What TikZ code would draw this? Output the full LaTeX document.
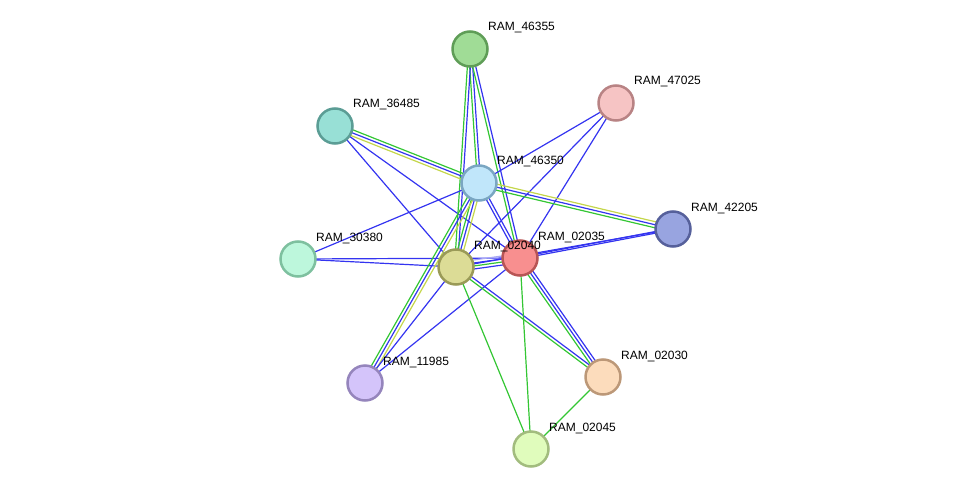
\documentclass[tikz,border=0pt]{standalone}
\usepackage{fontspec}
\setmainfont{Liberation Sans}
\usetikzlibrary{calc}
\pgfdeclarelayer{bg}
\pgfsetlayers{bg,main}
\definecolor{lblue}{HTML}{3434F0}
\definecolor{lgreen}{HTML}{33C633}
\definecolor{lyellow}{HTML}{C4D64A}
\definecolor{llav}{HTML}{A8A8F4}
\tikzset{
  prot/.style={circle,draw,line width=2.5pt,minimum size=35pt,inner sep=0pt},
  plabel/.style={anchor=west,inner sep=0pt,font=\fontsize{12}{14}\selectfont},
  ev/.style={line width=1.2pt}
}
% edge with parallel evidence lines: colour/offset pairs
\newcommand{\evlink}[3]{%
  \foreach \col/\off in {#3}
    \draw[ev,\col] ($(#1.center)!\off pt!90:(#2.center)$) -- ($(#2.center)!\off pt!-90:(#1.center)$);}
\begin{document}
\begin{tikzpicture}[x=1pt,y=-1pt]
  \useasboundingbox (0,0) rectangle (976,495);
  % proteins
  \node[prot,fill={rgb,255:red,160;green,220;blue,150},draw={rgb,255:red,95;green,157;blue,87}] (n46355) at (470,49) {};
  \node[prot,fill={rgb,255:red,246;green,196;blue,196},draw={rgb,255:red,184;green,131;blue,132}] (n47025) at (616,103) {};
  \node[prot,fill={rgb,255:red,152;green,224;blue,214},draw={rgb,255:red,91;green,157;blue,149}] (n36485) at (335,126) {};
  \node[prot,fill={rgb,255:red,192;green,230;blue,250},draw={rgb,255:red,122;green,166;blue,194}] (n46350) at (479,183) {};
  \node[prot,fill={rgb,255:red,152;green,164;blue,224},draw={rgb,255:red,86;green,96;blue,155}] (n42205) at (673,229) {};
  \node[prot,fill={rgb,255:red,189;green,247;blue,220},draw={rgb,255:red,126;green,192;blue,159}] (n30380) at (298,259) {};
  \node[prot,fill={rgb,255:red,248;green,143;blue,143},draw={rgb,255:red,184;green,85;blue,85}] (n02035) at (520,258) {};
  \node[prot,fill={rgb,255:red,220;green,220;blue,150},draw={rgb,255:red,154;green,154;blue,87}] (n02040) at (456,267) {};
  \node[prot,fill={rgb,255:red,212;green,196;blue,250},draw={rgb,255:red,149;green,133;blue,188}] (n11985) at (365,383) {};
  \node[prot,fill={rgb,255:red,252;green,220;blue,188},draw={rgb,255:red,188;green,152;blue,120}] (n02030) at (603,377) {};
  \node[prot,fill={rgb,255:red,224;green,252;blue,188},draw={rgb,255:red,162;green,188;blue,126}] (n02045) at (531,449) {};
  % labels
  \foreach \p in {46355,47025,36485,46350,42205,30380,02035,02040,11985,02030,02045}
    \node[plabel] (l\p) at ($(n\p)+(18,-21)$) {RAM\_\p};
  % evidence lines
  \begin{pgfonlayer}{bg}
    \evlink{n46355}{n46350}{lgreen/-1.5,lblue/1.5}
    \evlink{n46355}{n02040}{lgreen/-1.5,lblue/1.5}
    \evlink{n46355}{n02035}{lgreen/-1.5,lblue/1.5}
    \evlink{n36485}{n46350}{lgreen/3,lblue/0,lyellow/-3}
    \evlink{n36485}{n02040}{lblue/0}
    \evlink{n36485}{n02035}{lblue/0}
    \evlink{n47025}{n46350}{lblue/0}
    \evlink{n47025}{n02040}{lblue/0}
    \evlink{n47025}{n02035}{lblue/0}
    \evlink{n42205}{n46350}{lyellow/-3,lblue/0,lgreen/3}
    \evlink{n42205}{n02035}{lblue/-0.8,lblue/0.8}
    \evlink{n42205}{n02040}{lblue/0}
    \evlink{n30380}{n46350}{lblue/0}
    \evlink{n30380}{n02040}{lblue/0}
    \evlink{n30380}{n02035}{lblue/0}
    \evlink{n46350}{n02040}{lgreen/-3,lblue/0,lyellow/3}
    \evlink{n46350}{n02035}{lblue/-1.5,lblue/1.5}
    \evlink{n46350}{n11985}{lgreen/-3,lblue/0,lyellow/3}
    \evlink{n11985}{n02040}{lblue/0}
    \evlink{n11985}{n02035}{lblue/0}
    \evlink{n02040}{n02035}{lblue/-4.5,lgreen/-1.5,lblue/1.5,llav/4.5}
    \evlink{n02040}{n02030}{lgreen/-1.5,lblue/1.5}
    \evlink{n02035}{n02030}{lgreen/-3,lblue/0,lblue/3}
    \evlink{n02040}{n02045}{lgreen/0}
    \evlink{n02035}{n02045}{lgreen/0}
    \evlink{n02030}{n02045}{lgreen/0}
  \end{pgfonlayer}
\end{tikzpicture}
\end{document}
